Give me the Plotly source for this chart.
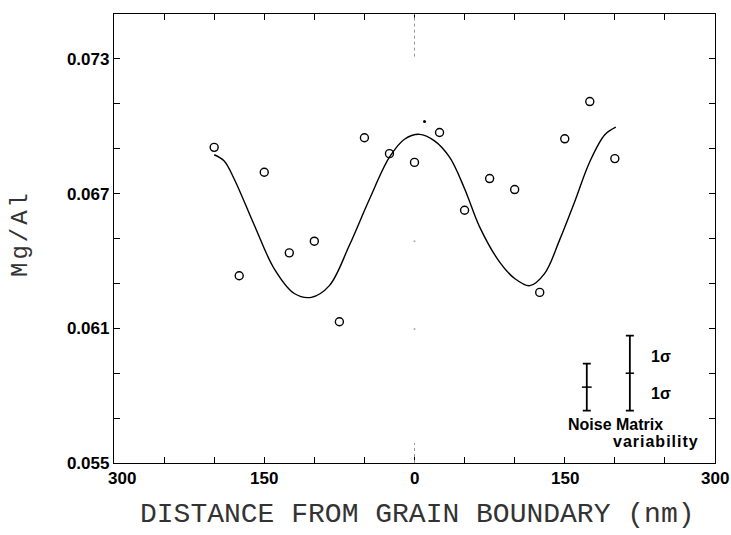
import plotly.graph_objects as go

# Mg/Al ratio measured across a grain boundary
distance_nm = [-200, -175, -150, -125, -100, -75, -50, -25, 0,
               25, 50, 75, 100, 125, 150, 175, 200]
mg_al = [0.06906, 0.06334, 0.06795, 0.06436, 0.06488, 0.06129, 0.06949,
         0.06878, 0.06839, 0.06972, 0.06626, 0.06767, 0.06718, 0.06260,
         0.06944, 0.07110, 0.06856]

# Smoothed fit through the profile
fit_x = [-200, -190, -180, -160, -140, -120, -103, -85, -65, -45, -25,
         -10, 5, 20, 35, 50, 65, 85, 100, 115, 130, 145, 160, 175, 190, 201]
fit_y = [0.06873, 0.06845, 0.06765, 0.06560, 0.06365, 0.06255, 0.06238,
         0.06290, 0.06470, 0.06675, 0.06862, 0.06942, 0.06964, 0.06935,
         0.06862, 0.06722, 0.06552, 0.06395, 0.06322, 0.06290, 0.06345,
         0.06495, 0.06665, 0.06842, 0.06962, 0.06996]

# Stray dot near the fit maximum
stray_x = [10]
stray_y = [0.07021]

# Uncertainty key: noise (+/-1 sigma) and matrix variability (+/-1 sigma)
noise_x, noise_y, noise_sigma = 172, 0.05838, 0.00105
matrix_x, matrix_y, matrix_sigma = 215, 0.05900, 0.00167

# Axis ticks
x_ticks = [-300, -250, -200, -150, -100, -50, 0, 50, 100, 150, 200, 250, 300]
x_labels = ["300", "", "", "150", "", "", "0", "", "", "150", "", "", "300"]
y_ticks = [0.055, 0.057, 0.059, 0.061, 0.063, 0.065, 0.067, 0.069, 0.071, 0.073, 0.075]
y_labels = ["0.055", "", "", "0.061", "", "", "0.067", "", "", "0.073", ""]

# Faint guide marks at the boundary position
guide_dot_y = [0.06488, 0.06097]

tick_font = dict(family="Liberation Sans", size=17, color="black", weight="bold")
key_font = dict(family="Liberation Sans", size=16, color="black", weight="bold")
title_font = dict(family="Liberation Mono", size=28, color="#333")

fig = go.Figure()

fig.add_trace(go.Scatter(
    x=fit_x, y=fit_y, mode="lines",
    line=dict(color="black", width=1.4, shape="spline", smoothing=1.0),
    hoverinfo="skip"))

fig.add_trace(go.Scatter(
    x=distance_nm, y=mg_al, mode="markers",
    marker=dict(symbol="circle-open", size=8, color="black",
                line=dict(width=1.4, color="black"))))

fig.add_trace(go.Scatter(
    x=stray_x, y=stray_y, mode="markers",
    marker=dict(symbol="circle", size=3, color="black")))

fig.add_trace(go.Scatter(
    x=[0] * len(guide_dot_y), y=guide_dot_y, mode="markers",
    marker=dict(symbol="circle", size=2, color="#aaa")))

# Noise bar with centre mark
fig.add_trace(go.Scatter(
    x=[noise_x], y=[noise_y], mode="markers",
    marker=dict(symbol="line-ew", size=7, line=dict(width=1.5, color="black")),
    error_y=dict(type="constant", value=noise_sigma, color="black",
                 thickness=1.8, width=4)))

# Matrix variability bar with centre mark
fig.add_trace(go.Scatter(
    x=[matrix_x], y=[matrix_y], mode="markers",
    marker=dict(symbol="line-ew", size=6, line=dict(width=1.5, color="black")),
    error_y=dict(type="constant", value=matrix_sigma, color="black",
                 thickness=1.8, width=4)))

# Dotted boundary marker at x = 0
for y0, y1 in [(0.0731, 0.075), (0.055, 0.0559)]:
    fig.add_shape(type="line", x0=0, x1=0, y0=y0, y1=y1, xref="x", yref="y",
                  line=dict(color="#999", width=1, dash="dot"))

annotations = [
    dict(x=matrix_x + 19, y=matrix_y + matrix_sigma / 2 - 0.00008, text="1σ",
         xanchor="left", yanchor="middle"),
    dict(x=matrix_x + 19, y=matrix_y - matrix_sigma / 2 - 0.00008, text="1σ",
         xanchor="left", yanchor="middle"),
    dict(x=noise_x - 21, y=0.05672, text="Noise Matrix",
         xanchor="left", yanchor="middle"),
    dict(x=241, y=0.05598, text="<span style='letter-spacing:1px'>variability</span>",
         xanchor="center", yanchor="middle"),
]
for a in annotations:
    fig.add_annotation(xref="x", yref="y", showarrow=False, font=key_font, **a)

# x tick labels placed on the axis scale; the corner label sits clear of 0.055
for v, lab in zip(x_ticks, x_labels):
    if lab:
        fig.add_annotation(xref="x", yref="paper", x=v, y=0, yshift=-15,
                           xshift=8 if v == x_ticks[0] else 0,
                           text=lab, showarrow=False, font=tick_font,
                           xanchor="center", yanchor="middle")

# Axis titles
fig.add_annotation(xref="paper", yref="paper", x=0.505, y=0, yshift=-51,
                   text="DISTANCE FROM GRAIN BOUNDARY (nm)",
                   showarrow=False, font=title_font,
                   xanchor="center", yanchor="middle")
fig.add_annotation(xref="paper", yref="paper", x=0, xshift=-94, y=0.51,
                   text="<span style='letter-spacing:3px'>Mg/Al</span>", textangle=-90,
                   showarrow=False,
                   font=dict(family="Liberation Mono", size=24, color="#333"),
                   xanchor="center", yanchor="middle")

axis_common = dict(showgrid=False, zeroline=False, showline=True,
                   linecolor="black", linewidth=1.3, mirror="ticks",
                   ticks="inside", ticklen=6, tickwidth=1.2, tickcolor="black",
                   tickfont=tick_font, tickmode="array")

fig.update_xaxes(range=[-300, 300], tickvals=x_ticks, showticklabels=False, **axis_common)
fig.update_yaxes(range=[0.055, 0.075], tickvals=y_ticks, ticktext=y_labels, **axis_common)

fig.update_layout(
    width=731, height=535,
    margin=dict(l=114, r=16, t=14, b=72),
    paper_bgcolor="white", plot_bgcolor="white",
    showlegend=False,
)

fig.write_html("out.html")
